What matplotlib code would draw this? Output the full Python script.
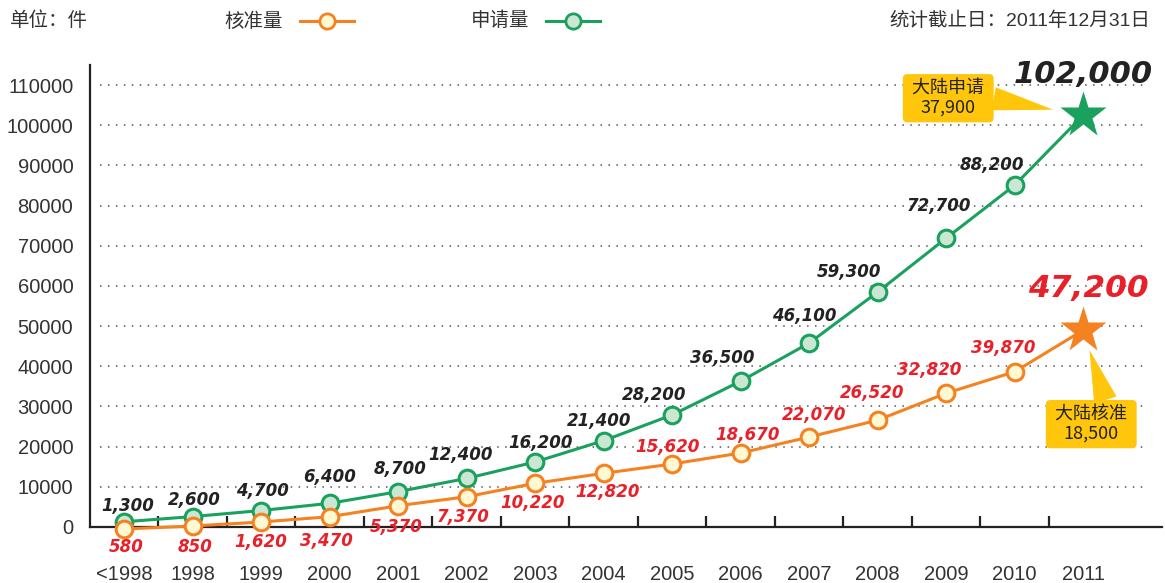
import matplotlib
matplotlib.use('Agg')
import matplotlib.pyplot as plt
from matplotlib.lines import Line2D
import numpy as np

plt.rcParams['font.family'] = ['Liberation Sans', 'Noto Sans CJK SC', 'DejaVu Sans']

# categories on the x axis
years = ['<1998', '1998', '1999', '2000', '2001', '2002', '2003', '2004',
         '2005', '2006', '2007', '2008', '2009', '2010', '2011']

# 申请量 (applications): plotted positions + printed labels
apply_vals = [1300, 2600, 4100, 5900, 8800, 12100, 16200, 21500,
              27900, 36300, 45800, 58500, 71900, 85100, 102500]
apply_lbls = ['1,300', '2,600', '4,700', '6,400', '8,700', '12,400', '16,200', '21,400',
              '28,200', '36,500', '46,100', '59,300', '72,700', '88,200', '102,000']

# 核准量 (approvals)
grant_vals = [-500, 250, 1240, 2560, 5300, 7540, 10880, 13370,
              15680, 18420, 22400, 26600, 33300, 38650, 49000]
grant_lbls = ['580', '850', '1,620', '3,470', '5,370', '7,370', '10,220', '12,820',
              '15,620', '18,670', '22,070', '26,520', '32,820', '39,870', '47,200']

yticks = [0, 10000, 20000, 30000, 40000, 50000, 60000, 70000, 80000, 90000, 100000, 110000]

# label offsets in pixels (dx, dy) from the point
apply_off = [(3, 16), (2, 17), (1, 20), (0, 26), (2, 23), (-6, 23), (5, 19), (-5, 20),
             (-18, 20), (-18, 23), (-5, 27), (-29, 20), (-7, 32), (-23, 20), (0, 41)]
grant_off = [(2, -18), (2, -21), (-1, -20), (-3, -24), (-2, -21), (-4, -20), (-3, -20), (4, -19),
             (-5, 17), (7, 18), (5, 22), (-6, 27), (-17, 23), (-11, 24), (5, 42)]

GREEN = '#1ba15e'
GREEN_FACE = '#cbe7d3'
ORANGE = '#f58220'
ORANGE_FACE = '#fff8d2'
RED = '#e8202a'
YELLOW = '#ffc60b'
DARK = '#333333'
LBL_FONT = ['DejaVu Sans']

W, H = 1165, 583
fig = plt.figure(figsize=(W / 100, H / 100), dpi=100)
ax = fig.add_axes([90 / W, 56 / H, 1072 / W, 462 / H])

x = np.arange(len(years))
n = len(years) - 1

# dotted grid
ax.hlines(yticks[1:], -0.36, 14.88, colors='#555555', linewidth=1.1,
          linestyles=(0, (1, 4.2)), zorder=1)

# lines
ax.plot(x, apply_vals, color=GREEN, lw=2.2, zorder=4, clip_on=False)
ax.plot(x, grant_vals, color=ORANGE, lw=2.2, zorder=4, clip_on=False)
ax.plot(x[:n], apply_vals[:n], 'o', ms=12, mfc=GREEN_FACE, mec=GREEN, mew=2.2,
        zorder=5, clip_on=False)
ax.plot(x[:n], grant_vals[:n], 'o', ms=12, mfc=ORANGE_FACE, mec=ORANGE, mew=2.2,
        zorder=5, clip_on=False)
ax.plot(x[n], apply_vals[n], '*', ms=35, color=GREEN, mec='none', zorder=6, clip_on=False)
ax.plot(x[n], grant_vals[n], '*', ms=35, color=ORANGE, mec='none', zorder=6, clip_on=False)

# value labels
for i in range(len(years)):
    big = i == n
    ax.annotate(apply_lbls[i], (x[i], apply_vals[i]), xytext=apply_off[i],
                textcoords='offset pixels', ha='center', va='center', family=LBL_FONT,
                fontsize=22 if big else 12, fontweight='bold', fontstyle='oblique',
                color='#222222', zorder=7, annotation_clip=False)
    ax.annotate(grant_lbls[i], (x[i], grant_vals[i]), xytext=grant_off[i],
                textcoords='offset pixels', ha='center', va='center', family=LBL_FONT,
                fontsize=22.5 if big else 12, fontweight='bold', fontstyle='oblique',
                color=RED, zorder=7, annotation_clip=False)

# callouts
box = dict(boxstyle='round,pad=0.3,rounding_size=0.25', fc=YELLOW, ec='none')
ax.annotate(' 大陆申请 \n37,900', (x[n], apply_vals[n]), xytext=(-135, 17),
            textcoords='offset pixels', ha='center', va='center', fontsize=13,
            family='Noto Sans CJK SC', color='#222222', linespacing=1.1, bbox=box,
            arrowprops=dict(arrowstyle='wedge,tail_width=1.3,shrink_factor=0.5',
                            fc=YELLOW, ec='none', shrinkA=0, shrinkB=22,
                            relpos=(0.9, 0.55)),
            zorder=3, annotation_clip=False)
ax.annotate(' 大陆核准 \n18,500', (x[n], grant_vals[n]), xytext=(8, -94),
            textcoords='offset pixels', ha='center', va='center', fontsize=13,
            family='Noto Sans CJK SC', color='#222222', linespacing=1.1, bbox=box,
            arrowprops=dict(arrowstyle='wedge,tail_width=1.3,shrink_factor=0.5',
                            fc=YELLOW, ec='none', shrinkA=0, shrinkB=15,
                            relpos=(0.72, 0.85)),
            zorder=3, annotation_clip=False)

# axes
ax.set_xlim(-0.5, 15.15)
ax.set_ylim(0, 115000)
ax.set_yticks(yticks)
ax.set_yticklabels([str(v) for v in yticks])
ax.set_xticks(x)
ax.set_xticklabels(years)
ax.set_xticks(x[:-1] + 0.5, minor=True)
ax.tick_params(axis='both', which='major', length=0, labelsize=14.5, labelcolor=DARK)
ax.tick_params(axis='y', pad=12)
ax.tick_params(axis='x', pad=27)
ax.tick_params(axis='x', which='minor', direction='in', length=8, width=1.6, color='#222222')
for s in ['top', 'right']:
    ax.spines[s].set_visible(False)
for s in ['left', 'bottom']:
    ax.spines[s].set_linewidth(1.6)
    ax.spines[s].set_color('#222222')

# header
hy = 1 - 21 / H
fig.text(10 / W, hy, '单位：件', fontsize=14, color=DARK,
         family='Noto Sans CJK SC', va='center', ha='left')
fig.text(283 / W, hy, '核准量', fontsize=14, color=DARK,
         family='Noto Sans CJK SC', va='center', ha='right')
fig.text(529 / W, hy, '申请量', fontsize=14, color=DARK,
         family='Noto Sans CJK SC', va='center', ha='right')
fig.text(1150 / W, hy, '统计截止日：2011年12月31日', fontsize=14, color=DARK,
         family=['Liberation Sans', 'Noto Sans CJK SC'], va='center', ha='right')
fig.add_artist(Line2D([300 / W, 354 / W], [hy, hy], color=ORANGE, lw=2.2,
                      transform=fig.transFigure))
fig.add_artist(Line2D([327 / W], [hy], marker='o', ms=11, mfc=ORANGE_FACE,
                      mec=ORANGE, mew=2, transform=fig.transFigure))
fig.add_artist(Line2D([546 / W, 600 / W], [hy, hy], color=GREEN, lw=2.2,
                      transform=fig.transFigure))
fig.add_artist(Line2D([573 / W], [hy], marker='o', ms=11, mfc=GREEN_FACE,
                      mec=GREEN, mew=2, transform=fig.transFigure))

fig.savefig('out.png', dpi=100)
